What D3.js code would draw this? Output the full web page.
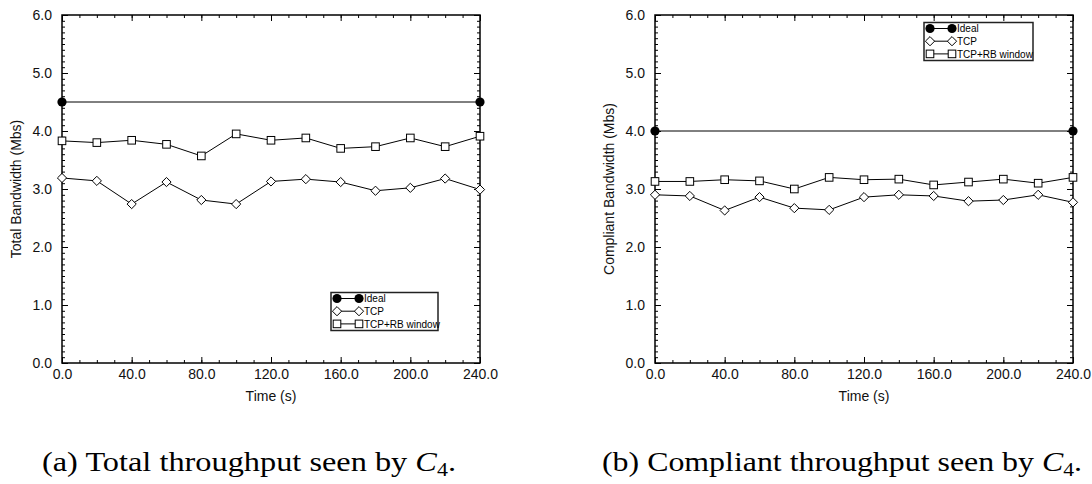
<!DOCTYPE html>
<html>
<head>
<meta charset="utf-8">
<script src="https://cdn.jsdelivr.net/npm/d3@7/dist/d3.min.js"></script>
<style>
  html, body { margin: 0; padding: 0; background: #fff; }
  svg { display: block; }
</style>
</head>
<body>
<svg id="fig" width="1092" height="484"></svg>
<script>
// Sample times (s)
const times = [0, 20, 40, 60, 80, 100, 120, 140, 160, 180, 200, 220, 240];
const idealTimes = [0, 240];

// (a) total bandwidth (Mbs)
const totalIdeal = [4.5, 4.5];
const totalTCP = [3.19, 3.14, 2.74, 3.12, 2.81, 2.74, 3.13, 3.17, 3.12, 2.97, 3.02, 3.18, 2.99];
const totalRB  = [3.83, 3.80, 3.84, 3.77, 3.57, 3.95, 3.84, 3.88, 3.70, 3.73, 3.88, 3.73, 3.91];

// (b) compliant bandwidth (Mbs)
const compIdeal = [4.0, 4.0];
const compTCP = [2.90, 2.88, 2.63, 2.86, 2.67, 2.64, 2.86, 2.90, 2.88, 2.79, 2.81, 2.90, 2.77];
const compRB  = [3.13, 3.13, 3.16, 3.14, 3.00, 3.20, 3.16, 3.17, 3.07, 3.12, 3.17, 3.10, 3.20];

// Axis ticks and labels
const xTicks = [0, 40, 80, 120, 160, 200, 240];
const yTicks = [0, 1, 2, 3, 4, 5, 6];
const xTickLabels = ["0.0", "40.0", "80.0", "120.0", "160.0", "200.0", "240.0"];
const yTickLabels = ["0.0", "1.0", "2.0", "3.0", "4.0", "5.0", "6.0"];
const seriesNames = ["Ideal", "TCP", "TCP+RB window"];

const svg = d3.select("#fig");
const SANS = '"Liberation Sans", Arial, Helvetica, sans-serif';
const SERIF = '"Liberation Serif", "Times New Roman", serif';

function marker(g, kind, cx, cy) {
  if (kind === "circle") {
    g.append("circle").attr("cx", cx).attr("cy", cy).attr("r", 4.6).attr("fill", "#000");
  } else if (kind === "diamond") {
    const r = 4.6;
    g.append("path")
      .attr("d", `M${cx},${cy - r}L${cx + r},${cy}L${cx},${cy + r}L${cx - r},${cy}Z`)
      .attr("fill", "#fff").attr("stroke", "#000").attr("stroke-width", 1);
  } else {
    const s = 7.6;
    g.append("rect").attr("x", cx - s / 2).attr("y", cy - s / 2)
      .attr("width", s).attr("height", s)
      .attr("fill", "#fff").attr("stroke", "#000").attr("stroke-width", 1);
  }
}

function panel(opt) {
  const g = svg.append("g");
  const x = d3.scaleLinear().domain([0, 240]).range([opt.x0, opt.x1]);
  const y = d3.scaleLinear().domain([0, 6]).range([opt.y1, opt.y0]);

  const minorX = d3.range(0, 241, 10);
  const minorY = d3.range(0, 61, 1).map(v => v / 10);

  // inward tick marks on all four sides
  const tickGroups = [
    [d3.axisBottom(x).tickValues(minorX).tickSize(-3), `translate(0,${opt.y1})`],
    [d3.axisBottom(x).tickValues(xTicks).tickSize(-6), `translate(0,${opt.y1})`],
    [d3.axisTop(x).tickValues(minorX).tickSize(-3), `translate(0,${opt.y0})`],
    [d3.axisTop(x).tickValues(xTicks).tickSize(-6), `translate(0,${opt.y0})`],
    [d3.axisLeft(y).tickValues(minorY).tickSize(-3), `translate(${opt.x0},0)`],
    [d3.axisLeft(y).tickValues(yTicks).tickSize(-6), `translate(${opt.x0},0)`],
    [d3.axisRight(y).tickValues(minorY).tickSize(-3), `translate(${opt.x1},0)`],
    [d3.axisRight(y).tickValues(yTicks).tickSize(-6), `translate(${opt.x1},0)`]
  ];
  tickGroups.forEach(([ax, tr]) => {
    const a = g.append("g").attr("transform", tr).call(ax.tickFormat(""));
    a.select(".domain").remove();
    a.selectAll(".tick line").attr("stroke", "#000").attr("stroke-width", 1);
  });

  // tick labels
  const xl = g.append("g").attr("transform", `translate(0,${opt.y1})`)
    .call(d3.axisBottom(x).tickValues(xTicks).tickSize(0).tickPadding(6)
      .tickFormat((d, i) => xTickLabels[i]));
  xl.select(".domain").remove();
  xl.selectAll("text").attr("font-size", 14).attr("fill", "#111").attr("font-family", SANS);

  const yl = g.append("g").attr("transform", `translate(${opt.x0},0)`)
    .call(d3.axisLeft(y).tickValues(yTicks).tickSize(0).tickPadding(10)
      .tickFormat((d, i) => yTickLabels[i]));
  yl.select(".domain").remove();
  yl.selectAll("text").attr("font-size", 14).attr("fill", "#111").attr("font-family", SANS);

  // frame
  g.append("rect").attr("x", opt.x0).attr("y", opt.y0)
    .attr("width", opt.x1 - opt.x0).attr("height", opt.y1 - opt.y0)
    .attr("fill", "none").attr("stroke", "#000").attr("stroke-width", 1.5);

  // axis titles
  g.append("text").attr("x", (opt.x0 + opt.x1) / 2).attr("y", opt.y1 + 38)
    .attr("text-anchor", "middle").attr("font-family", SANS).attr("font-size", 14)
    .attr("fill", "#111").text("Time (s)");
  g.append("text")
    .attr("transform", `translate(${opt.x0 - 41},${(opt.y0 + opt.y1) / 2}) rotate(-90)`)
    .attr("text-anchor", "middle").attr("font-family", SANS).attr("font-size", 14)
    .attr("fill", "#111").text(opt.ylabel);

  // series
  const line = d3.line().x(d => x(d[0])).y(d => y(d[1]));
  const series = [
    { t: idealTimes, v: opt.ideal, kind: "circle" },
    { t: times, v: opt.tcp, kind: "diamond" },
    { t: times, v: opt.rb, kind: "square" }
  ];
  series.forEach(s => {
    const pts = s.t.map((t, i) => [t, s.v[i]]);
    g.append("path").attr("d", line(pts)).attr("fill", "none")
      .attr("stroke", "#000").attr("stroke-width", 1);
    pts.forEach(p => marker(g, s.kind, x(p[0]), y(p[1])));
  });

  // legend
  const L = opt.legend;
  const lg = g.append("g");
  lg.append("rect").attr("x", L.x).attr("y", L.y).attr("width", L.w).attr("height", L.h)
    .attr("fill", "#fff").attr("stroke", "#222").attr("stroke-width", 1.5);
  ["circle", "diamond", "square"].forEach((k, i) => {
    const cy = L.y + 6 + i * 12.7;
    lg.append("line").attr("x1", L.x + 6).attr("x2", L.x + 28).attr("y1", cy).attr("y2", cy)
      .attr("stroke", "#000").attr("stroke-width", 1);
    marker(lg, k, L.x + 6, cy);
    marker(lg, k, L.x + 28, cy);
    lg.append("text").attr("x", L.x + 33).attr("y", cy + 3.6)
      .attr("font-family", SANS).attr("font-size", 10).attr("fill", "#000")
      .text(seriesNames[i]);
  });
}

panel({
  x0: 62, x1: 480, y0: 15, y1: 363,
  ylabel: "Total Bandwidth (Mbs)",
  ideal: totalIdeal, tcp: totalTCP, rb: totalRB,
  legend: { x: 331, y: 292.5, w: 107, h: 38 }
});
panel({
  x0: 655, x1: 1073, y0: 15, y1: 363,
  ylabel: "Compliant Bandwidth (Mbs)",
  ideal: compIdeal, tcp: compTCP, rb: compRB,
  legend: { x: 924, y: 22.5, w: 109, h: 38 }
});

// sub-figure captions
function caption(cx, width, label) {
  const t = svg.append("text").attr("x", cx).attr("y", 471)
    .attr("text-anchor", "middle").attr("font-family", SERIF).attr("font-size", 28)
    .attr("fill", "#000");
  t.append("tspan").text(label + " ");
  t.append("tspan").attr("font-style", "italic").text("C");
  t.append("tspan").attr("font-size", 19).attr("dy", 5).text("4");
  t.append("tspan").attr("dy", -5).text(".");
  t.attr("textLength", width).attr("lengthAdjust", "spacingAndGlyphs");
}
caption(249, 414, "(a) Total throughput seen by");
caption(842, 480, "(b) Compliant throughput seen by");
</script>
</body>
</html>
